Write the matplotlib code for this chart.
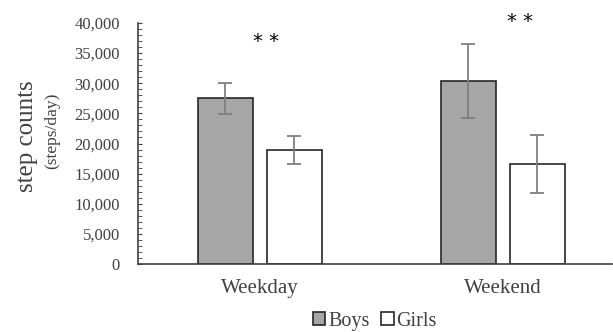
import matplotlib
matplotlib.use('Agg')
import matplotlib.pyplot as plt
import numpy as np

plt.rcParams['font.family'] = 'Liberation Serif'

days = ['Weekday', 'Weekend']
boys = [27500, 30400]
boys_err = [2600, 6100]
girls = [18900, 16600]
girls_err = [2300, 4750]
stars = ['* *', '* *']
star_y = [37000, 40300]

fig = plt.figure(figsize=(6.13, 3.32), dpi=100)
ax = fig.add_axes([0.2251, 0.2048, 0.7729, 0.7259])

x = np.arange(len(days))
w = 0.226
off = 0.142
ekw = dict(ecolor='#7f7f7f', elinewidth=1.3, capsize=5, capthick=1.3)
ax.bar(x - off, boys, w, yerr=boys_err, color='#a6a6a6', edgecolor='#262626',
       linewidth=1.2, error_kw=ekw, label='Boys')
ax.bar(x + off, girls, w, yerr=girls_err, color='white', edgecolor='#262626',
       linewidth=1.2, error_kw=ekw, label='Girls')

for i in range(len(days)):
    ax.text(x[i] + 0.025 + 0.045 * i, star_y[i], stars[i], ha='center', va='center',
            fontsize=14, family='DejaVu Sans', clip_on=False)

ax.set_xlim(-0.502, 1.449)
ax.set_ylim(0, 40000)
ax.set_yticks(np.arange(0, 40001, 5000))
ax.set_yticks(np.arange(0, 40001, 1000), minor=True)
ax.set_yticklabels(['{:,}'.format(v) for v in range(0, 40001, 5000)], fontsize=12, color='#404040')
ax.tick_params(axis='y', which='both', direction='in', length=3, color='#404040', pad=13)
ax.set_xticks(x)
ax.set_xticklabels(days, fontsize=15, color='#404040')
ax.tick_params(axis='x', length=0, pad=11)

for s in ['top', 'right']:
    ax.spines[s].set_visible(False)
for s in ['left', 'bottom']:
    ax.spines[s].set_color('#404040')
    ax.spines[s].set_linewidth(1.2)

fig.text(0.044, 0.59, 'step counts', rotation=90, ha='center', va='center',
         fontsize=18, color='#404040')
fig.text(0.085, 0.605, '(steps/day)', rotation=90, ha='center', va='center',
         fontsize=12.5, color='#404040')

leg = ax.legend(loc='center', bbox_to_anchor=(0.5, -0.237), ncol=2, frameon=False,
                fontsize=14.5, handlelength=0.6, handleheight=0.6, handletextpad=0.15,
                columnspacing=0.6, borderpad=0.2)
for t in leg.get_texts():
    t.set_color('#404040')

plt.savefig('out.png', dpi=100)
